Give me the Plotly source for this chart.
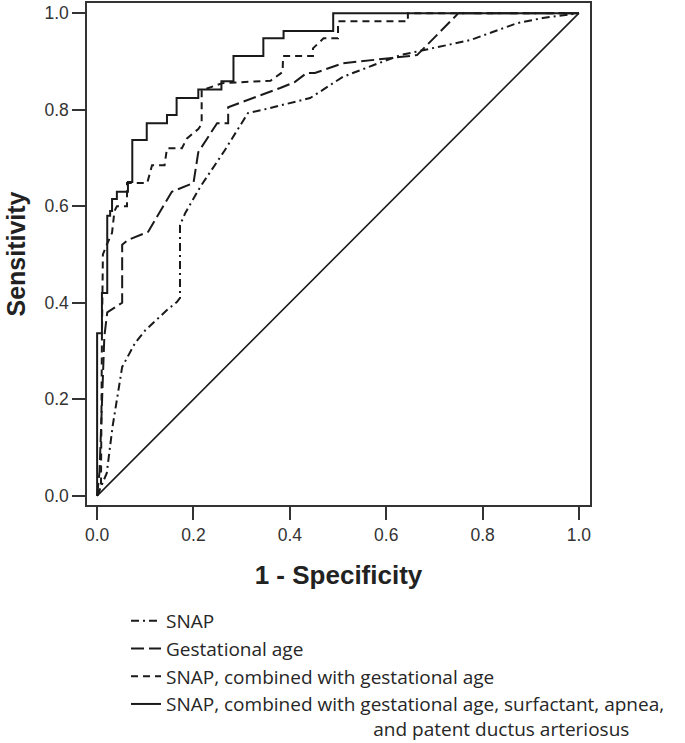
import plotly.graph_objects as go

# SNAP (dash-dot)
snap_x = [0.0, 0.02, 0.032, 0.052, 0.079, 0.10, 0.145, 0.166, 0.172, 0.172, 0.183, 0.214, 0.265, 0.313,
          0.345, 0.407, 0.442, 0.49, 0.51, 0.573, 0.629, 0.676, 0.774, 0.871, 0.925, 1.0]
snap_y = [0.0, 0.047, 0.143, 0.267, 0.317, 0.343, 0.385, 0.402, 0.41, 0.561, 0.586, 0.64, 0.716, 0.793,
          0.80, 0.816, 0.824, 0.855, 0.868, 0.892, 0.913, 0.923, 0.944, 0.979, 0.99, 1.0]

# Gestational age (long dash)
ga_x = [0.0, 0.005, 0.015, 0.021, 0.052, 0.052, 0.064, 0.106, 0.155, 0.20, 0.21, 0.249, 0.272, 0.272,
        0.38, 0.41, 0.435, 0.452, 0.51, 0.573, 0.664, 0.75, 1.0]
ga_y = [0.0, 0.05, 0.33, 0.38, 0.40, 0.52, 0.53, 0.547, 0.63, 0.648, 0.712, 0.772, 0.772, 0.805,
        0.845, 0.857, 0.876, 0.876, 0.896, 0.903, 0.913, 1.0, 1.0]

# SNAP combined with gestational age (dash)
comb_x = [0.0, 0.008, 0.01, 0.012, 0.02, 0.031, 0.036, 0.041, 0.062, 0.062, 0.104, 0.114, 0.14, 0.145,
          0.176, 0.186, 0.21, 0.217, 0.217, 0.26, 0.36, 0.385, 0.386, 0.448, 0.448, 0.47, 0.50, 0.50,
          0.645, 0.645, 1.0]
comb_y = [0.0, 0.02, 0.33, 0.50, 0.52, 0.545, 0.59, 0.60, 0.60, 0.648, 0.648, 0.685, 0.685, 0.72,
          0.72, 0.74, 0.76, 0.77, 0.84, 0.855, 0.86, 0.878, 0.911, 0.911, 0.927, 0.948, 0.948, 0.983,
          0.983, 1.0, 1.0]

# SNAP + GA + surfactant + apnea + PDA (solid, step)
full_x = [0.0, 0.0, 0.01, 0.021, 0.027, 0.031, 0.041, 0.064, 0.073, 0.103, 0.145, 0.165, 0.21, 0.258,
          0.283, 0.345, 0.387, 0.49, 1.0]
full_y = [0.0, 0.337, 0.42, 0.58, 0.59, 0.615, 0.63, 0.65, 0.737, 0.772, 0.789, 0.824, 0.842, 0.859,
          0.911, 0.948, 0.963, 1.0, 1.0]

# Reference line
ref_x = [0.0, 1.0]
ref_y = [0.0, 1.0]

tick_vals = [0.0, 0.2, 0.4, 0.6, 0.8, 1.0]
tick_text = ["0.0", "0.2", "0.4", "0.6", "0.8", "1.0"]

names = [
    "SNAP",
    "Gestational age",
    "SNAP, combined with gestational age",
    "SNAP, combined with gestational age, surfactant, apnea,<br>" + "\u00a0" * 42 + "and patent ductus arteriosus",
]

fig = go.Figure()
lc = "#1a1a1a"
fig.add_trace(go.Scatter(x=snap_x, y=snap_y, mode="lines", name=names[0], legendgroup="a",
                         line=dict(color=lc, width=2, dash="8px,4px,2px,4px")))
fig.add_trace(go.Scatter(x=ga_x, y=ga_y, mode="lines", name=names[1], legendgroup="b",
                         line=dict(color=lc, width=2, dash="13px,5px")))
fig.add_trace(go.Scatter(x=comb_x, y=comb_y, mode="lines", name=names[2], legendgroup="c",
                         line=dict(color=lc, width=2, dash="7px,5px")))
fig.add_trace(go.Scatter(x=full_x, y=full_y, mode="lines", name=names[3], legendgroup="d",
                         line=dict(color=lc, width=2, shape="hv")))
fig.add_trace(go.Scatter(x=ref_x, y=ref_y, mode="lines", showlegend=False,
                         line=dict(color=lc, width=1.6)))

axis_common = dict(
    showgrid=False, zeroline=False, showline=True, linecolor="#333333", linewidth=1.5, mirror=True,
    ticks="outside", ticklen=13, tickwidth=2, tickcolor="#333333", automargin=False,
    tickvals=tick_vals, ticktext=tick_text,
    tickfont=dict(family="Liberation Sans, Arial, sans-serif", size=17.5, color="#333333"),
)

ML, MR, MT, MB = 87, 95, 3, 238
fig.update_layout(
    width=685, height=743,
    margin=dict(l=ML, r=MR, t=MT, b=MB, autoexpand=False),
    paper_bgcolor="white", plot_bgcolor="white",
    xaxis=dict(range=[-0.021, 1.023], title=dict(text="<b>1 - Specificity</b>", standoff=22,
               font=dict(family="Liberation Sans, Arial, sans-serif", size=26, color="#222222")),
               **axis_common),
    yaxis=dict(range=[-0.019, 1.021], title=dict(text="<b>Sensitivity</b>", standoff=12,
               font=dict(family="Liberation Sans, Arial, sans-serif", size=25, color="#222222")),
               **axis_common),
    showlegend=True,
)
plot_w = 685 - ML - MR
plot_h = 743 - MT - MB
fig.update_layout(legend=dict(x=(126 - ML) / plot_w, xref="paper", y=-(602 - (743 - MB)) / plot_h, yref="paper",
                              xanchor="left", yanchor="top", valign="top",
                              font=dict(family="Open Sans, sans-serif", size=19, color="#262626"),
                              tracegroupgap=0, bgcolor="rgba(0,0,0,0)"))

fig.write_html("out.html", config={"displayModeBar": False},
               post_script="document.body.style.margin='0';")
